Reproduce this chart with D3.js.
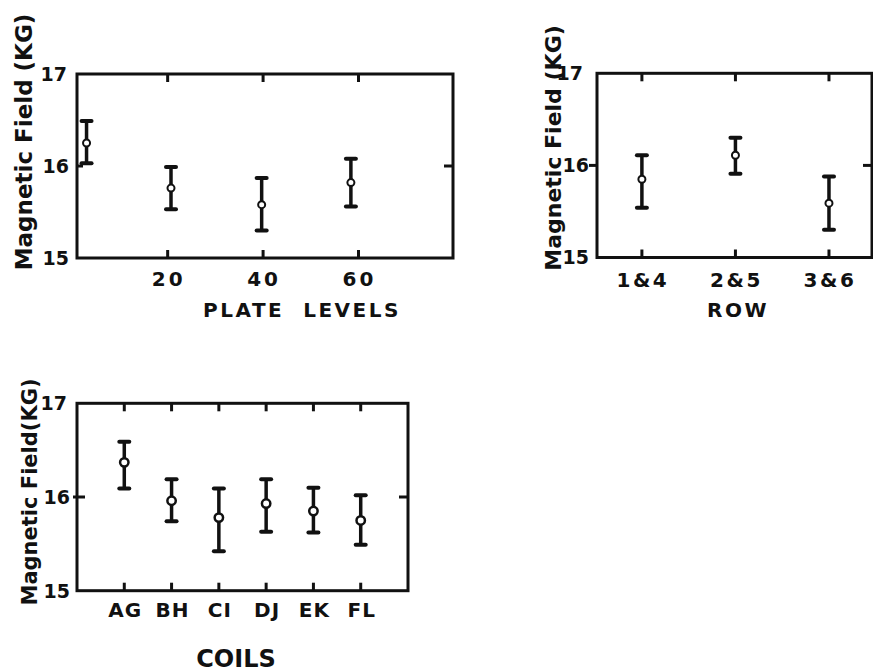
<!DOCTYPE html>
<html>
<head>
<meta charset="utf-8">
<script src="https://cdn.jsdelivr.net/npm/d3@7"></script>
<style>
  html, body { margin: 0; padding: 0; background: #fff; }
  svg text { font-family: "DejaVu Sans", sans-serif; font-weight: bold; fill: #111; }
</style>
</head>
<body>
<svg id="chart" width="873" height="672"></svg>
<script>
// ---- Data ----
const yTicks = [15, 16, 17];

const plateTicks = [20, 40, 60];
const plateLevels = [3, 20.7, 39.7, 58.4];
const plateMean = [16.25, 15.76, 15.58, 15.82];
const plateHi   = [16.49, 15.99, 15.87, 16.08];
const plateLo   = [16.03, 15.53, 15.30, 15.56];

const rows    = ["1&4", "2&5", "3&6"];
const rowMean = [15.85, 16.11, 15.59];
const rowHi   = [16.11, 16.30, 15.88];
const rowLo   = [15.54, 15.91, 15.30];

const coils    = ["AG", "BH", "CI", "DJ", "EK", "FL"];
const coilMean = [16.37, 15.96, 15.78, 15.93, 15.85, 15.75];
const coilHi   = [16.59, 16.19, 16.09, 16.19, 16.10, 16.02];
const coilLo   = [16.09, 15.74, 15.42, 15.63, 15.62, 15.49];

const svg = d3.select("#chart");
const ink = "#111";

function panel(cfg) {
  const g = svg.append("g");
  const x = cfg.x, y = cfg.y;
  const [x0, x1] = x.range();
  const [yb, yt] = y.range();

  // frame
  g.append("rect")
    .attr("x", x0).attr("y", yt)
    .attr("width", x1 - x0).attr("height", yb - yt)
    .attr("fill", "none").attr("stroke", ink).attr("stroke-width", 3);

  // x ticks top & bottom (inward)
  cfg.xTickVals.forEach(v => {
    const px = x(v);
    g.append("line").attr("x1", px).attr("x2", px).attr("y1", yt).attr("y2", yt + 8)
      .attr("stroke", ink).attr("stroke-width", 3);
    g.append("line").attr("x1", px).attr("x2", px).attr("y1", yb).attr("y2", yb - 8)
      .attr("stroke", ink).attr("stroke-width", 3);
  });
  // y tick at 16, left and right
  const py = y(16);
  g.append("line").attr("x1", x0 - cfg.leftOut).attr("x2", x0 + cfg.leftIn).attr("y1", py).attr("y2", py)
    .attr("stroke", ink).attr("stroke-width", 3);
  g.append("line").attr("x1", x1).attr("x2", x1 - 9).attr("y1", py).attr("y2", py)
    .attr("stroke", ink).attr("stroke-width", 3);

  // y tick labels
  yTicks.forEach(v => {
    g.append("text")
      .attr("x", x0 - cfg.yLabelGap - (v === 17 ? cfg.seventeenShift : 0))
      .attr("y", y(v)).attr("dy", "0.36em")
      .attr("text-anchor", "end").attr("font-size", 19)
      .text(v);
  });

  // x tick labels
  cfg.xLabels.forEach((lab, i) => {
    g.append("text")
      .attr("x", x(cfg.xLabelVals[i]) + 1)
      .attr("y", cfg.xLabelBase)
      .attr("text-anchor", "middle").attr("font-size", 20)
      .attr("letter-spacing", cfg.xLetterSpacing)
      .text(lab);
  });

  // axis title
  g.append("text")
    .attr("x", cfg.titleX).attr("y", cfg.titleY)
    .attr("text-anchor", "middle").attr("font-size", cfg.titleSize)
    .attr("letter-spacing", cfg.titleSpacing)
    .style("white-space", "pre")
    .text(cfg.title);

  // y title (rotated)
  g.append("text")
    .attr("transform", `translate(${cfg.yTitleX},${cfg.yTitleY}) rotate(-90)`)
    .attr("text-anchor", "middle").attr("font-size", cfg.yTitleSize)
    .text(cfg.yTitle);

  // error bars
  cfg.xs.forEach((xv, i) => {
    const px = x(xv);
    g.append("line").attr("x1", px).attr("x2", px)
      .attr("y1", y(cfg.hi[i])).attr("y2", y(cfg.lo[i]))
      .attr("stroke", ink).attr("stroke-width", 3.5);
    [cfg.hi[i], cfg.lo[i]].forEach(v => {
      g.append("line").attr("x1", px - 5).attr("x2", px + 5)
        .attr("y1", y(v)).attr("y2", y(v))
        .attr("stroke", ink).attr("stroke-width", 4).attr("stroke-linecap", "round");
    });
    g.append("circle").attr("cx", px).attr("cy", y(cfg.mean[i])).attr("r", cfg.r)
      .attr("fill", "#fff").attr("stroke", ink).attr("stroke-width", cfg.rs);
  });
}

// Panel 1: plate levels
panel({
  x: d3.scaleLinear().domain([1, 79.8]).range([77, 453]),
  y: d3.scaleLinear().domain([15, 17]).range([258, 74]),
  xTickVals: plateTicks,
  xLabels: plateTicks.map(String), xLabelVals: plateTicks, xLabelBase: 286, xLetterSpacing: 3,
  leftOut: 0, leftIn: 6, yLabelGap: 8, seventeenShift: 2,
  title: "PLATE  LEVELS", titleX: 302, titleY: 317, titleSize: 20, titleSpacing: 2.5,
  yTitle: "Magnetic Field (KG)", yTitleX: 32, yTitleY: 142, yTitleSize: 23,
  xs: plateLevels, mean: plateMean, hi: plateHi, lo: plateLo, r: 3.5, rs: 2
});

// Panel 2: row
const rowIdx = rows.map((d, i) => i + 1);
panel({
  x: d3.scaleLinear().domain([0.52, 3.46]).range([597, 872]),
  y: d3.scaleLinear().domain([15, 17]).range([257.5, 73.3]),
  xTickVals: rowIdx,
  xLabels: rows, xLabelVals: rowIdx, xLabelBase: 287, xLetterSpacing: 2.5,
  leftOut: 8, leftIn: 0, yLabelGap: 8, seventeenShift: 6,
  title: "ROW", titleX: 738, titleY: 317, titleSize: 20, titleSpacing: 2.5,
  yTitle: "Magnetic Field (KG)", yTitleX: 561, yTitleY: 148, yTitleSize: 22,
  xs: rowIdx, mean: rowMean, hi: rowHi, lo: rowLo, r: 3.5, rs: 2
});

// Panel 3: coils
const coilIdx = coils.map((d, i) => i + 1);
panel({
  x: d3.scaleLinear().domain([0, 7]).range([77, 408]),
  y: d3.scaleLinear().domain([15, 17]).range([590.7, 403.3]),
  xTickVals: coilIdx,
  xLabels: coils, xLabelVals: coilIdx, xLabelBase: 617, xLetterSpacing: 1,
  leftOut: 4, leftIn: 8, yLabelGap: 7, seventeenShift: 3,
  title: "COILS", titleX: 236, titleY: 667, titleSize: 24, titleSpacing: 0,
  yTitle: "Magnetic Field(KG)", yTitleX: 37, yTitleY: 492, yTitleSize: 21,
  xs: coilIdx, mean: coilMean, hi: coilHi, lo: coilLo, r: 4.2, rs: 2.5
});
</script>
</body>
</html>
